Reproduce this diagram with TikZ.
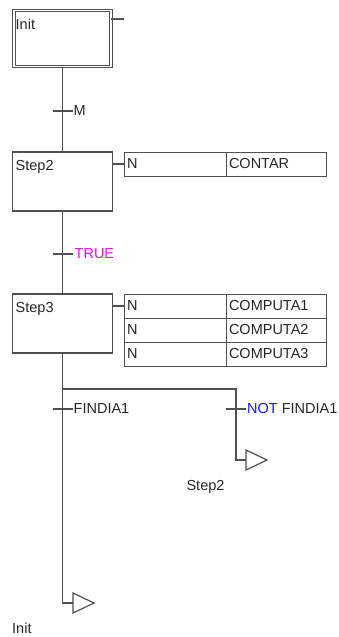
\documentclass[tikz,border=0pt]{standalone}
\usepackage{fontspec}
\setmainfont{Liberation Sans}
\usetikzlibrary{positioning}

\definecolor{wireclr}{RGB}{80,80,80}
\definecolor{trueclr}{RGB}{255,0,255}
\definecolor{notclr}{RGB}{20,20,255}

\begin{document}
\begin{tikzpicture}[x=1pt,y=-1pt,
    every node/.style={font=\fontsize{14.5}{16}\selectfont,text=black!85},
    wire/.style={draw=wireclr,line width=1.2pt},
    stepbox/.style={draw=wireclr,line width=1.2pt,minimum width=100pt,
        minimum height=59pt,inner sep=0pt,outer sep=0pt,anchor=north west},
    initbox/.style={stepbox,line width=1.2pt,double=white,double distance=1.2pt,
        minimum width=97pt,minimum height=56pt},
    qualcell/.style={draw=wireclr,line width=1pt,minimum height=24pt,text width=96pt,
        inner xsep=3pt,inner ysep=0pt,outer sep=0pt,anchor=north west,align=left},
    actcell/.style={qualcell,text width=94pt},
    steplabel/.style={anchor=north west,inner sep=0pt,xshift=3pt,yshift=-8pt},
    tlabel/.style={anchor=west,inner sep=0pt}]

    \useasboundingbox (0,0) rectangle (339,637);

    % Steps
    \node[initbox,label={[steplabel,xshift=-1.5pt]north west:Init}] (init) at (14,10.5) {};
    \node[stepbox,label={[steplabel]north west:Step2}] (s2) at (12.5,152) {};
    \node[stepbox,label={[steplabel]north west:Step3}] (s3) at (12.5,294) {};

    % Actions
    \node[qualcell] (a2q) at (124,152) {N};
    \node[actcell,right=0pt of a2q] (a2a) {CONTAR};

    \node[qualcell] (a3q1) at (124,294) {N};
    \node[actcell,right=0pt of a3q1] (a3a1) {COMPUTA1};
    \foreach \i [remember=\i as \j (initially 1)] in {2,3} {
        \node[qualcell,below=0pt of a3q\j] (a3q\i) {N};
        \node[actcell,right=0pt of a3q\i] (a3a\i) {COMPUTA\i};
    }

    \coordinate (initout) at (124,19);
    \draw[wire] (init.east |- initout) -- (initout);
    \draw[wire] (s2.east |- a2q.west) -- (a2q.west);
    \draw[wire] (s3.east |- a3q1.west) -- (a3q1.west);

    % Main line
    \draw[wire] (init.south) -- (s2.north);
    \draw[wire] (s2.south) -- (s3.north);

    % Transitions
    \coordinate (tM) at (62.5,111);
    \coordinate (tT) at (62.5,254);
    \coordinate (tF) at (62.5,409);
    \coordinate (tN) at (236,409);
    \foreach \t in {tM,tT,tF,tN} {
        \draw[wire] ([xshift=-10pt]\t) -- ([xshift=10pt]\t);
    }
    \node[tlabel] (lM) at ([xshift=11pt]tM) {M};
    \node[tlabel,text=trueclr] (lT) at ([xshift=12pt]tT) {TRUE};
    \node[tlabel] (lF) at ([xshift=11pt]tF) {FINDIA1};
    \node[tlabel] (lN) at ([xshift=11pt]tN) {\textcolor{notclr}{NOT} FINDIA1};

    % Divergence and jumps
    \coordinate (fork) at (62.5,389);
    \coordinate (branch) at (236,389);
    \coordinate (jmp2) at (246,460);
    \coordinate (jmp1) at (73,603);
    \draw[wire] (s3.south) -- (fork) -- (branch) -- (branch |- jmp2) -- (jmp2);
    \draw[wire] (fork) -- (fork |- jmp1) -- (jmp1);
    \foreach \j in {jmp1,jmp2} {
        \draw[wire,line join=miter] (\j) -- ++(0,-10) -- ++(21,10) -- ++(-21,10) -- cycle;
    }
    \node[anchor=base,inner sep=0pt] (lj2) at (205.5,490) {Step2};
    \node[anchor=base west,inner sep=0pt] (lj1) at (12,633) {Init};

\end{tikzpicture}
\end{document}
